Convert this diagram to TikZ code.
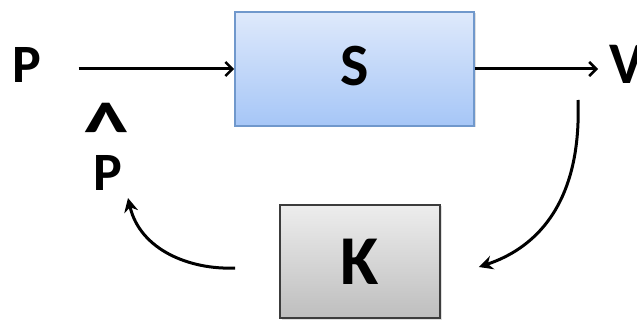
\documentclass[tikz,border=0pt]{standalone}
\usepackage{fontspec}
\setmainfont{Carlito}
\usetikzlibrary{arrows.meta,shadows}
\definecolor{sTop}{HTML}{DEE9FB}
\definecolor{sBot}{HTML}{A6C6F7}
\definecolor{sEdge}{HTML}{7098CC}
\definecolor{kTop}{HTML}{EDEDED}
\definecolor{kBot}{HTML}{BEBEBE}
\definecolor{kEdge}{HTML}{3C3C3C}
\begin{document}
\begin{tikzpicture}[x=1pt,y=1pt,
  lbl/.style={font=\bfseries\fontsize{54}{54}\selectfont, inner sep=0pt},
  block/.style={draw, line width=1.6pt, inner sep=0pt, drop shadow={opacity=0.25, shadow xshift=1.5pt, shadow yshift=-1.5pt}},
  sblock/.style={block, draw=sEdge, top color=sTop, bottom color=sBot,
    minimum width=239pt, minimum height=114pt,
    font=\bfseries\fontsize{60}{60}\selectfont},
  kblock/.style={block, draw=kEdge, top color=kTop, bottom color=kBot,
    minimum width=160pt, minimum height=113pt,
    font=\bfseries\fontsize{70}{70}\selectfont},
  flow/.style={line width=3pt, -{Straight Barb[length=7pt,width=14pt,line width=2.6pt]}},
  loop/.style={line width=3pt, -{Stealth[length=14pt,width=14pt]}}
]
\useasboundingbox (0,0) rectangle (637,-320);

% plant and controller blocks
\node[sblock] (S) at (354.5,-69) {\raisebox{6pt}{S}};
\node[kblock] (K) at (360,-261.5) {\raisebox{-3pt}{K}};

% signals
\node[lbl] (P) at (27,-65) {P};
\node[lbl, font=\bfseries\fontsize{59}{59}\selectfont, anchor=west] (V) at (609,-64) {V};
\node[lbl] (hat) at (106,-131) {\scalebox{1.7}[1.5]{\textasciicircum}};
\node[lbl] (Ph) at (108,-172.5) {P};

% feedback path end points
\coordinate (vdown) at (578,-100);
\coordinate (kin) at ([xshift=38pt,yshift=-5.5pt]K.east);
\coordinate (kout) at ([xshift=-44pt,yshift=-6.5pt]K.west);
\coordinate (phin) at (128,-198);

% forward path
\draw[flow] ([xshift=37pt]P.east |- S.west) -- (S.west);
\draw[flow] (S.east) -- ([xshift=-11pt]V.west |- S.east);

% feedback path
\draw[loop] (vdown) .. controls (582,-210) and (530,-250) .. (kin);
\draw[loop] (kout) .. controls (190,-270) and (140,-250) .. (phin);
\end{tikzpicture}
\end{document}
